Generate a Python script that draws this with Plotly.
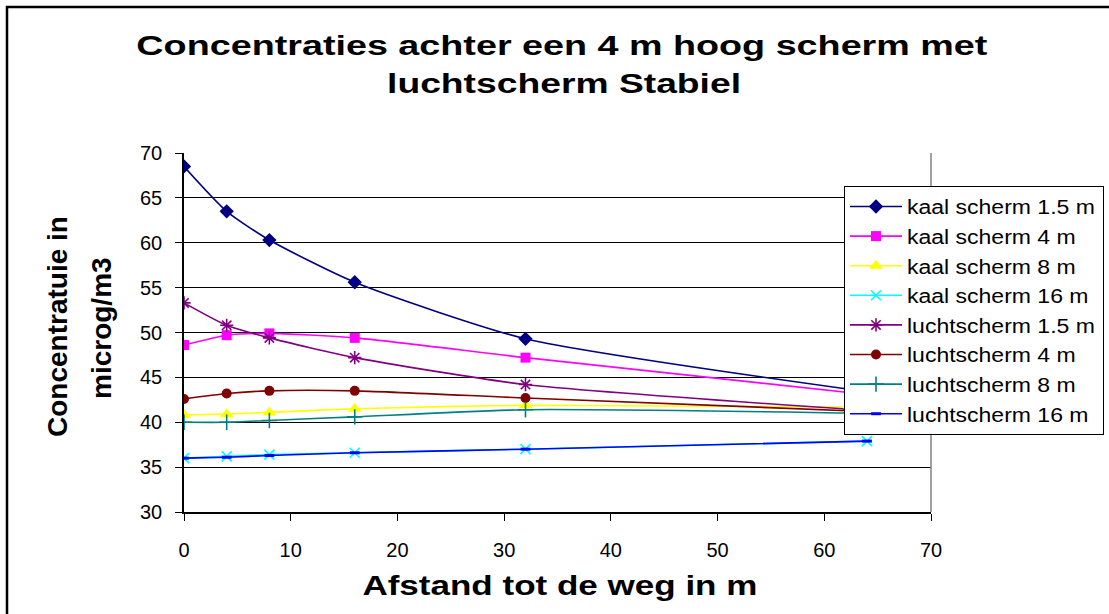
import plotly.graph_objects as go

# distances (m)
afstand = [0, 4, 8, 16, 32, 64]

series_names = [
    "kaal scherm 1.5 m", "kaal scherm 4 m", "kaal scherm 8 m", "kaal scherm 16 m",
    "luchtscherm 1.5 m", "luchtscherm 4 m", "luchtscherm 8 m", "luchtscherm 16 m",
]
kaal_1_5 = [68.5, 63.5, 60.3, 55.6, 49.3, 43.4]
kaal_4 = [48.6, 49.7, 49.9, 49.4, 47.2, 43.1]
kaal_8 = [40.8, 40.9, 41.1, 41.5, 41.9, 41.7]
kaal_16 = [36.0, 36.2, 36.4, 36.6, 37.0, 37.9]
lucht_1_5 = [53.3, 50.8, 49.4, 47.2, 44.2, 41.3]
lucht_4 = [42.6, 43.2, 43.5, 43.5, 42.7, 41.2]
lucht_8 = [40.0, 40.0, 40.2, 40.6, 41.4, 41.0]
lucht_16 = [36.0, 36.1, 36.3, 36.6, 37.0, 37.9]
values = [kaal_1_5, kaal_4, kaal_8, kaal_16, lucht_1_5, lucht_4, lucht_8, lucht_16]

y_ticks = [30, 35, 40, 45, 50, 55, 60, 65, 70]
x_ticks = [0, 10, 20, 30, 40, 50, 60, 70]

colors = ["#000080", "#FF00FF", "#FFFF00", "#00FFFF", "#800080", "#800000", "#008080", "#0000FF"]
symbols = ["diamond", "square", "triangle-up", "x-thin-open", "asterisk-open", "circle", "cross-thin-open", "line-ew-open"]
msizes = [11, 10, 12, 10, 11, 10, 11, 7]

FONT = "Liberation Sans, Arial, sans-serif"

fig = go.Figure()
for i, (name, vals) in enumerate(zip(series_names, values)):
    sym = symbols[i]
    open_sym = sym.endswith("open")
    fig.add_trace(go.Scatter(
        x=afstand, y=vals, name=name, mode="lines+markers",
        line=dict(color=colors[i], width=1.6, shape="spline", smoothing=0.6),
        marker=dict(symbol=sym, size=msizes[i], color=colors[i],
                    line=dict(color=colors[i], width=(3 if i == 7 else 1.6) if open_sym else 0)),
        legendgroup=f"g{i}",
    ))

L, R, T, B = 184, 178, 153, 102
W, H = 1109, 614
pw, ph = W - L - R, H - T - B


def px_x(x):
    return (x - L) / pw


def px_y(y):
    return (H - B - y) / ph


bold = lambda s: dict(family=FONT, size=s, weight=700, color="black")

fig.update_layout(
    width=W, height=H,
    margin=dict(l=L, r=R, t=T, b=B, pad=0),
    paper_bgcolor="white", plot_bgcolor="white",
    font=dict(family=FONT, color="black"),
    showlegend=True,
    legend=dict(
        x=px_x(844), y=px_y(186), xanchor="left", yanchor="top",
        bordercolor="black", borderwidth=1, bgcolor="white",
        font=dict(family=FONT, size=20, color="black"),
        tracegroupgap=0.6, itemwidth=52,
    ),
    xaxis=dict(
        range=[0, 70], tickvals=x_ticks, ticktext=[str(v) for v in x_ticks],
        showgrid=False, zeroline=False,
        showline=True, linecolor="black", linewidth=1.5,
        ticks="outside", ticklen=7, tickcolor="black",
        tickfont=dict(family=FONT, size=20), ticklabelstandoff=12,
    ),
    yaxis=dict(
        range=[30, 70], tickvals=y_ticks, ticktext=[str(v) for v in y_ticks],
        showgrid=True, gridcolor="black", gridwidth=1, zeroline=False,
        showline=True, linecolor="black", linewidth=1.5,
        ticks="outside", ticklen=7, tickcolor="black",
        tickfont=dict(family=FONT, size=20), ticklabelstandoff=9,
    ),
    shapes=[
        dict(type="line", xref="paper", yref="paper", x0=1, x1=1, y0=0, y1=1,
             line=dict(color="#808080", width=1.5)),
        dict(type="rect", xref="paper", yref="paper",
             x0=px_x(7), x1=px_x(1125), y0=px_y(630), y1=px_y(7),
             line=dict(color="black", width=2.5), layer="above"),
    ],
    annotations=[
        dict(text="Concentraties achter een 4 m hoog scherm met", xref="paper", yref="paper",
             x=px_x(562), y=px_y(45), xanchor="center", yanchor="middle", showarrow=False,
             font=bold(28)),
        dict(text="luchtscherm Stabiel", xref="paper", yref="paper",
             x=px_x(564), y=px_y(83), xanchor="center", yanchor="middle", showarrow=False,
             font=bold(28)),
        dict(text="Afstand tot de weg in m", xref="paper", yref="paper",
             x=px_x(560), y=px_y(585), xanchor="center", yanchor="middle", showarrow=False,
             font=bold(28)),
        dict(text="Concentratuie in", xref="paper", yref="paper",
             x=px_x(57), y=px_y(327), xanchor="center", yanchor="middle", showarrow=False,
             textangle=-90, font=bold(28)),
        dict(text="microg/m3", xref="paper", yref="paper",
             x=px_x(101), y=px_y(328), xanchor="center", yanchor="middle", showarrow=False,
             textangle=-90, font=bold(28)),
    ],
)

# widen horizontal text glyphs (the reference chart is horizontally stretched)
post = r"""
(function(){
var gd = document.getElementById('{plot_id}');
var targets = {
  'Concentraties achter een 4 m hoog scherm met': 851,
  'luchtscherm Stabiel': 354,
  'Afstand tot de weg in m': 395
};
function fit(t, w){
  t.setAttribute('textLength', w);
  t.setAttribute('lengthAdjust', 'spacingAndGlyphs');
}
function natural(t){
  if(!t.hasAttribute('textLength')){ t.setAttribute('data-nat', t.getComputedTextLength()); }
  return parseFloat(t.getAttribute('data-nat') || '0');
}
function apply(){
  gd.querySelectorAll('text.annotation-text').forEach(function(t){
    var w = targets[t.textContent];
    if(w){ fit(t, w); }
  });
  var extra = 0;
  gd.querySelectorAll('text.legendtext').forEach(function(t){
    var n = natural(t); if(n > 0){ fit(t, n * 1.15); extra = Math.max(extra, n * 0.15); }
  });
  gd.querySelectorAll('.legend [clip-path]').forEach(function(e){ e.removeAttribute('clip-path'); });
  gd.querySelectorAll('.legend').forEach(function(e){ e.removeAttribute('clip-path'); });
  var bg = gd.querySelector('.legend rect.bg');
  if(bg){
    if(!bg.hasAttribute('data-nat')){ bg.setAttribute('data-nat', bg.getAttribute('width')); }
    bg.setAttribute('width', parseFloat(bg.getAttribute('data-nat')) + extra + 2);
  }
}
apply();
if(gd.on){ gd.on('plotly_afterplot', apply); }
setTimeout(apply, 50);
setTimeout(apply, 300);
setTimeout(apply, 1000);
})();
"""

fig.write_html("out.html", post_script=post)
